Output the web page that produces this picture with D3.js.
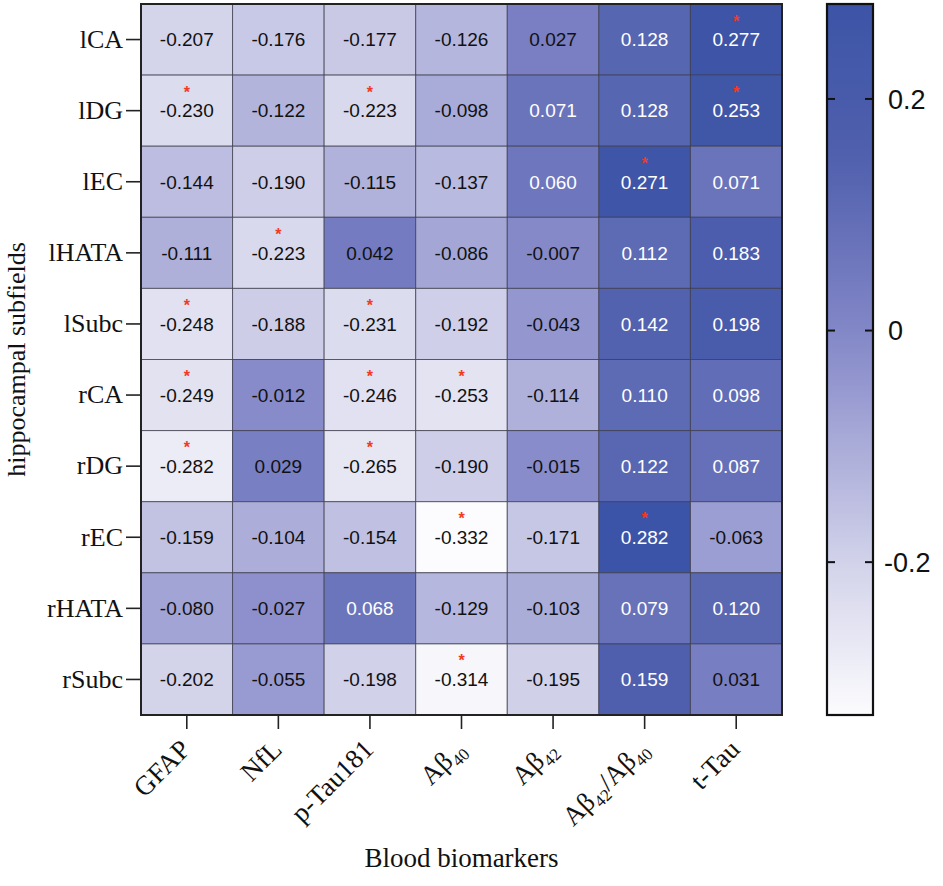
<!DOCTYPE html>
<html>
<head>
<meta charset="utf-8">
<script src="https://cdn.jsdelivr.net/npm/d3@7"></script>
<style>
  body { margin: 0; background: #fff; }
  svg { display: block; }
</style>
</head>
<body>
<svg id="chart" width="943" height="886"></svg>
<script>
// rows and columns of the heatmap
var subfields = ["lCA", "lDG", "lEC", "lHATA", "lSubc", "rCA", "rDG", "rEC", "rHATA", "rSubc"];
var biomarkers = ["GFAP", "NfL", "p-Tau181", "Aβ40", "Aβ42", "Aβ42/Aβ40", "t-Tau"];

// correlation coefficient, one array per subfield (same order as biomarkers)
var lCA   = [-0.207, -0.176, -0.177, -0.126,  0.027, 0.128,  0.277];
var lDG   = [-0.230, -0.122, -0.223, -0.098,  0.071, 0.128,  0.253];
var lEC   = [-0.144, -0.190, -0.115, -0.137,  0.060, 0.271,  0.071];
var lHATA = [-0.111, -0.223,  0.042, -0.086, -0.007, 0.112,  0.183];
var lSubc = [-0.248, -0.188, -0.231, -0.192, -0.043, 0.142,  0.198];
var rCA   = [-0.249, -0.012, -0.246, -0.253, -0.114, 0.110,  0.098];
var rDG   = [-0.282,  0.029, -0.265, -0.190, -0.015, 0.122,  0.087];
var rEC   = [-0.159, -0.104, -0.154, -0.332, -0.171, 0.282, -0.063];
var rHATA = [-0.080, -0.027,  0.068, -0.129, -0.103, 0.079,  0.120];
var rSubc = [-0.202, -0.055, -0.198, -0.314, -0.195, 0.159,  0.031];

// significant cells (marked with a red asterisk), 1 = p < 0.05
var sig_lCA   = [0, 0, 0, 0, 0, 0, 1];
var sig_lDG   = [1, 0, 1, 0, 0, 0, 1];
var sig_lEC   = [0, 0, 0, 0, 0, 1, 0];
var sig_lHATA = [0, 1, 0, 0, 0, 0, 0];
var sig_lSubc = [1, 0, 1, 0, 0, 0, 0];
var sig_rCA   = [1, 0, 1, 1, 0, 0, 0];
var sig_rDG   = [1, 0, 1, 0, 0, 0, 0];
var sig_rEC   = [0, 0, 0, 1, 0, 1, 0];
var sig_rHATA = [0, 0, 0, 0, 0, 0, 0];
var sig_rSubc = [0, 0, 0, 1, 0, 0, 0];

var colorTicks = [-0.2, 0, 0.2];

var values = [lCA, lDG, lEC, lHATA, lSubc, rCA, rDG, rEC, rHATA, rSubc];
var signif = [sig_lCA, sig_lDG, sig_lEC, sig_lHATA, sig_lSubc, sig_rCA, sig_rDG, sig_rEC, sig_rHATA, sig_rSubc];

var cells = [];
subfields.forEach(function(row, i) {
	biomarkers.forEach(function(col, j) {
		cells.push({row: row, col: col, v: values[i][j], sig: signif[i][j]});
	});
});

var serif = "'Liberation Serif', 'Times New Roman', serif";
var sans = "'Liberation Sans', Arial, Helvetica, sans-serif";

// plot box (window.top is reserved, so prefixed names)
var pLeft = 141, pRight = 782, pTop = 4, pBottom = 715;

var vmin = d3.min(cells, function(d) { return d.v; });
var vmax = d3.max(cells, function(d) { return d.v; });

var x = d3.scaleBand().domain(biomarkers).range([pLeft, pRight]).padding(0);
var y = d3.scaleBand().domain(subfields).range([pTop, pBottom]).padding(0);
var color = d3.scaleLinear()
	.domain([vmin, -0.2, 0, 0.15, vmax])
	.range(["#fcfcfe", "#d2d2ea", "#8286c7", "#5060ad", "#3c54a7"])
	.clamp(true);

var svg = d3.select("#chart");

// cells
svg.append("g").selectAll("rect")
	.data(cells)
	.join("rect")
	.attr("x", function(d) { return x(d.col); })
	.attr("y", function(d) { return y(d.row); })
	.attr("width", x.bandwidth())
	.attr("height", y.bandwidth())
	.attr("fill", function(d) { return color(d.v); })
	.attr("stroke", "#3c3c4c")
	.attr("stroke-opacity", 0.75)
	.attr("stroke-width", 1);

// values
svg.append("g").selectAll("text")
	.data(cells)
	.join("text")
	.attr("x", function(d) { return x(d.col) + x.bandwidth() / 2; })
	.attr("y", function(d) { return y(d.row) + y.bandwidth() / 2; })
	.attr("dy", "0.36em")
	.attr("text-anchor", "middle")
	.style("font-family", sans)
	.style("font-size", "19px")
	.attr("fill", function(d) { return d.v > 0.05 ? "#ffffff" : "#111111"; })
	.text(function(d) { return d3.format(".3f")(d.v).replace("−", "-"); });

// asterisks
svg.append("g").selectAll("text")
	.data(cells.filter(function(d) { return d.sig; }))
	.join("text")
	.attr("x", function(d) { return x(d.col) + x.bandwidth() / 2; })
	.attr("y", function(d) { return y(d.row) + y.bandwidth() / 2 - 13; })
	.attr("text-anchor", "middle")
	.style("font-family", sans)
	.style("font-size", "16px")
	.style("font-weight", "bold")
	.attr("fill", "#f23a22")
	.text("*");

// frame
svg.append("rect")
	.attr("x", pLeft).attr("y", pTop)
	.attr("width", pRight - pLeft).attr("height", pBottom - pTop)
	.attr("fill", "none")
	.attr("stroke", "#222")
	.attr("stroke-width", 2);

// y axis
var yAxis = svg.append("g")
	.attr("transform", "translate(" + pLeft + ",0)")
	.call(d3.axisLeft(y).tickSize(15).tickPadding(3));
yAxis.select(".domain").remove();
yAxis.selectAll(".tick line").attr("stroke", "#222").attr("stroke-width", 1.6);
yAxis.selectAll(".tick text")
	.style("font-family", serif)
	.style("font-size", "26px")
	.attr("fill", "#111");

// x axis
var xAxis = svg.append("g")
	.attr("transform", "translate(0," + pBottom + ")")
	.call(d3.axisBottom(x).tickSize(14).tickFormat(""));
xAxis.select(".domain").remove();
xAxis.selectAll(".tick line").attr("stroke", "#222").attr("stroke-width", 1.6);

// rotated labels with subscripts after β
xAxis.selectAll(".tick").each(function(name) {
	var t = d3.select(this).append("text")
		.attr("transform", "translate(5,36) rotate(-45)")
		.attr("text-anchor", "end")
		.attr("fill", "#111")
		.style("font-family", serif)
		.style("font-size", "27px");
	var parts = name.split(/(\d+)/);
	var lastSub = false;
	parts.forEach(function(p, k) {
		if (p === "") return;
		var isSub = /^\d+$/.test(p) && k > 0 && /β$/.test(parts[k - 1]);
		var span = t.append("tspan").text(p);
		if (isSub) {
			span.style("font-size", "17px").attr("dy", 6);
		} else if (lastSub) {
			span.attr("dy", -6);
		}
		lastSub = isSub;
	});
});

// axis titles
svg.append("text")
	.attr("transform", "translate(25," + ((pTop + pBottom) / 2) + ") rotate(-90)")
	.attr("text-anchor", "middle")
	.attr("fill", "#111")
	.style("font-family", serif)
	.style("font-size", "26px")
	.text("hippocampal subfields");

svg.append("text")
	.attr("x", (pLeft + pRight) / 2)
	.attr("y", 867)
	.attr("text-anchor", "middle")
	.attr("fill", "#111")
	.style("font-family", serif)
	.style("font-size", "27px")
	.text("Blood biomarkers");

// colour bar
var cbLeft = 827, cbRight = 873;
var cy = d3.scaleLinear().domain([vmin, vmax]).range([pBottom, pTop]);

var grad = svg.append("defs").append("linearGradient")
	.attr("id", "cbar")
	.attr("x1", 0).attr("y1", 1).attr("x2", 0).attr("y2", 0);
d3.range(0, 1.0001, 0.05).forEach(function(f) {
	grad.append("stop")
		.attr("offset", f)
		.attr("stop-color", color(vmin + f * (vmax - vmin)));
});

svg.append("rect")
	.attr("x", cbLeft).attr("y", pTop)
	.attr("width", cbRight - cbLeft).attr("height", pBottom - pTop)
	.attr("fill", "url(#cbar)")
	.attr("stroke", "#111")
	.attr("stroke-width", 2.2);

var cb = svg.append("g");
colorTicks.forEach(function(t) {
	cb.append("line")
		.attr("x1", cbLeft).attr("x2", cbLeft + 8)
		.attr("y1", cy(t)).attr("y2", cy(t))
		.attr("stroke", "#111").attr("stroke-width", 2);
	cb.append("line")
		.attr("x1", cbRight - 8).attr("x2", cbRight)
		.attr("y1", cy(t)).attr("y2", cy(t))
		.attr("stroke", "#111").attr("stroke-width", 2);
	cb.append("text")
		.attr("x", t < 0 ? 884 : 888)
		.attr("y", cy(t))
		.attr("dy", "0.36em")
		.attr("fill", "#111")
		.style("font-family", sans)
		.style("font-size", "27px")
		.text(t === 0 ? "0" : d3.format(".1f")(t).replace("−", "-"));
});
</script>
</body>
</html>
